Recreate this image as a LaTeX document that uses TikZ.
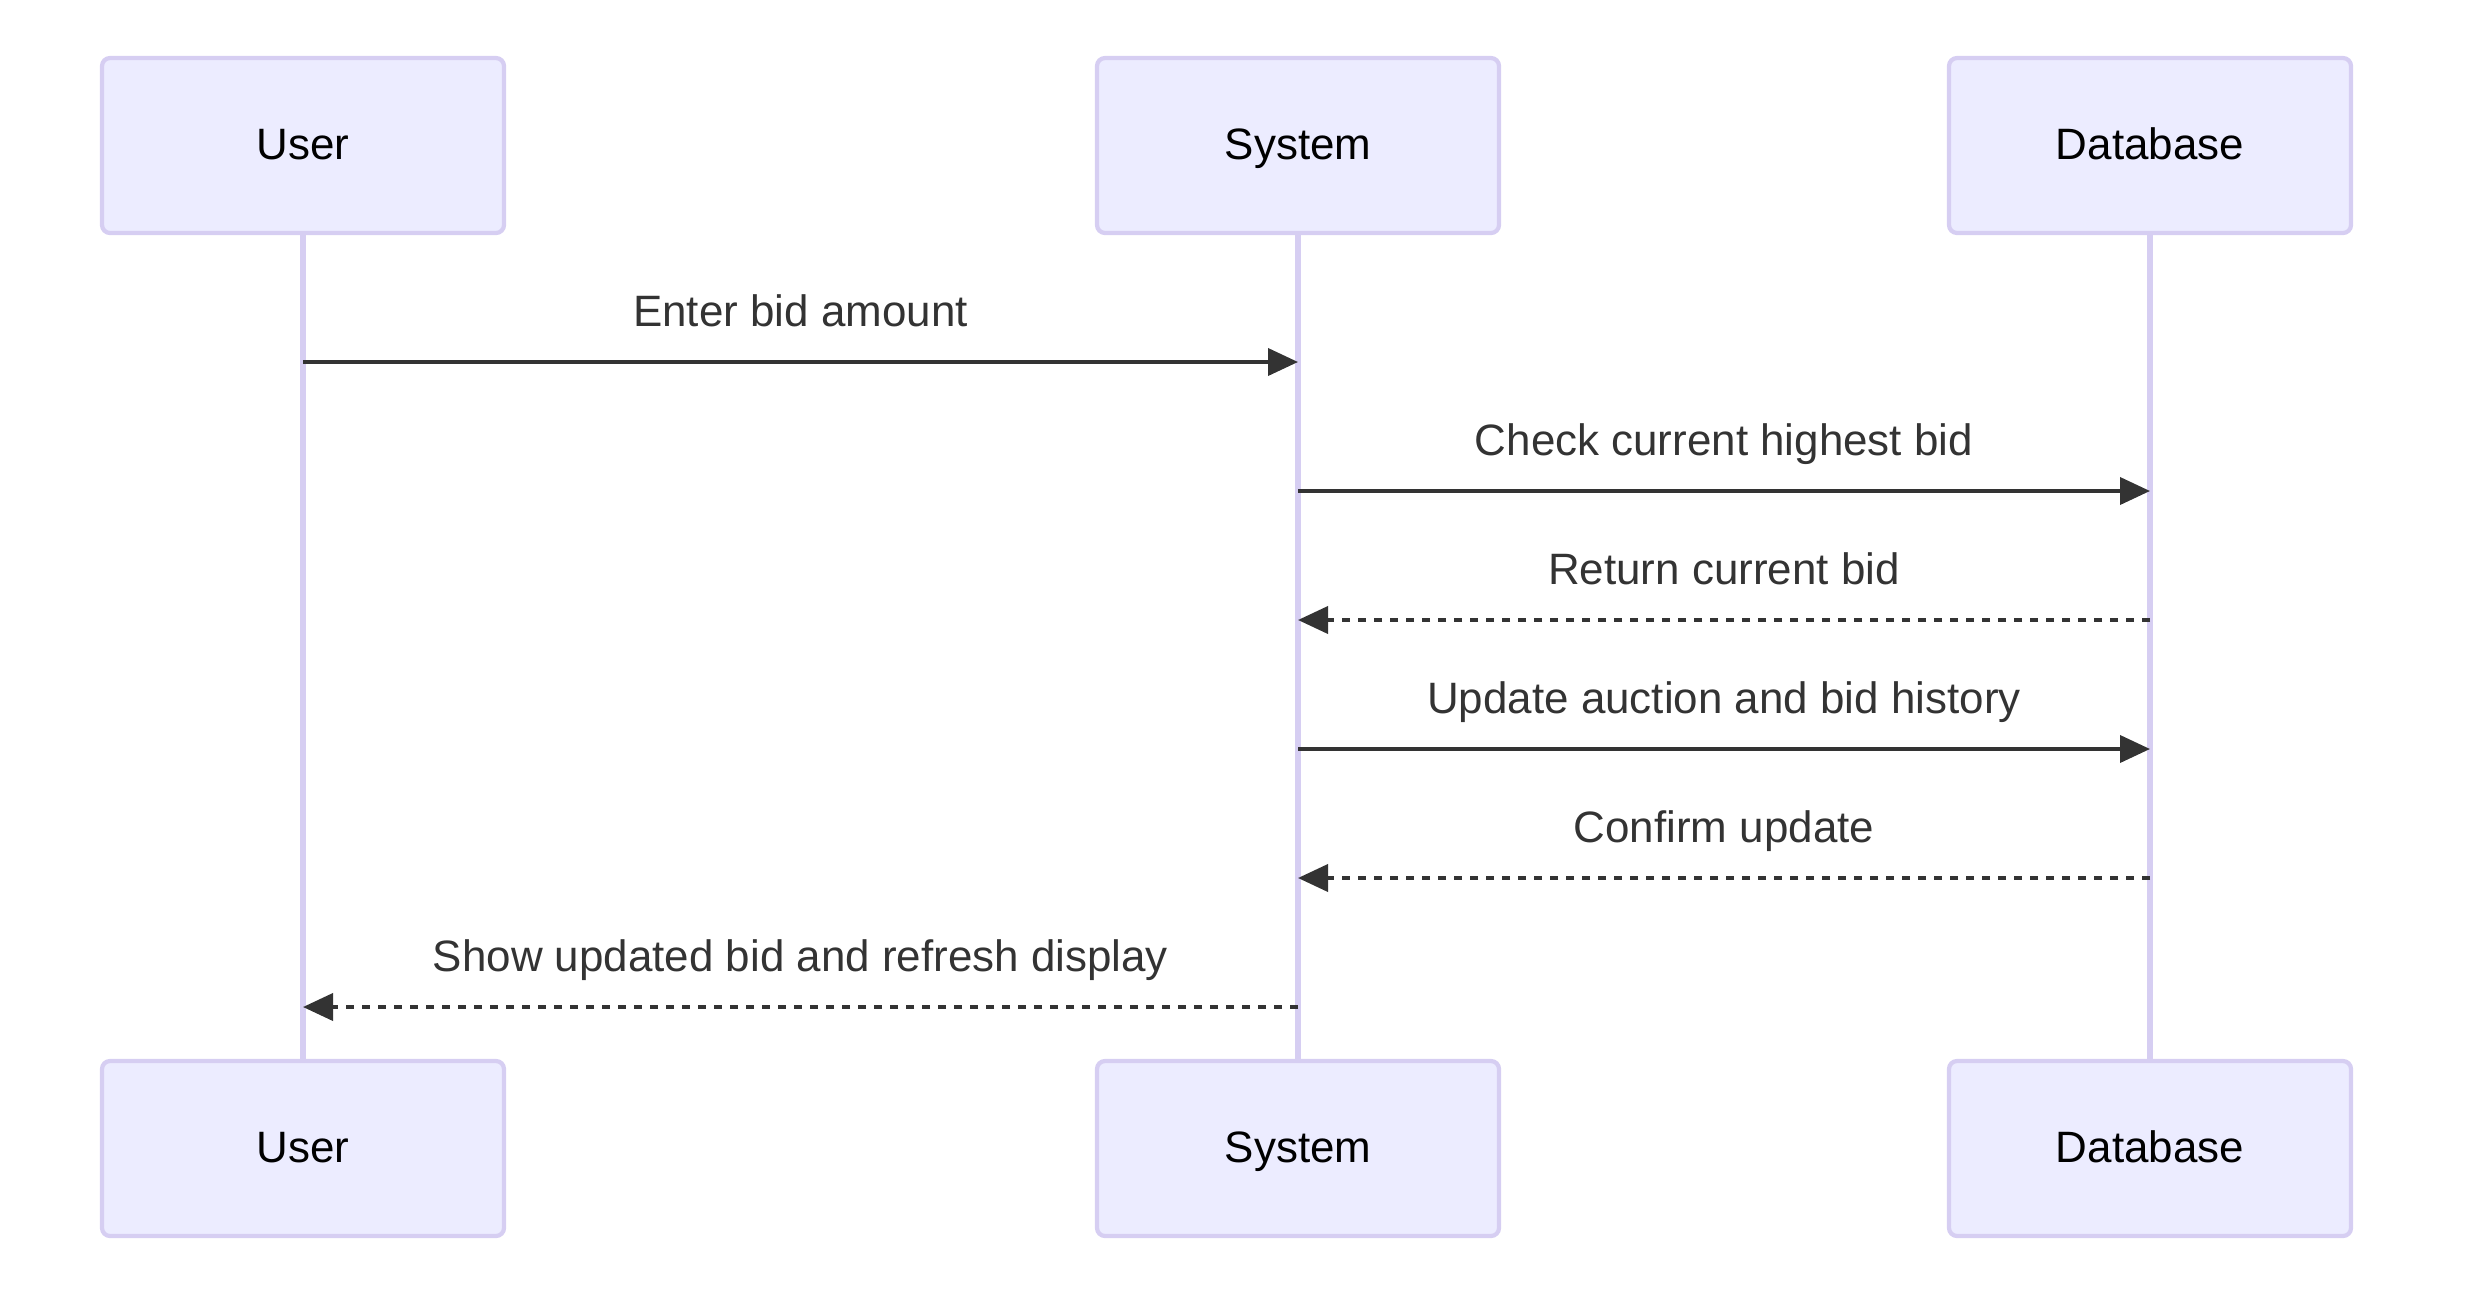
\documentclass[tikz,border=0pt]{standalone}
\usepackage{fontspec}
\setmainfont{Liberation Sans}
\usetikzlibrary{arrows.meta}
\definecolor{actfill}{HTML}{ECECFF}
\definecolor{actline}{HTML}{D6CEF2}
\definecolor{msgcol}{HTML}{333333}
\tikzset{
	actor/.style={draw=actline, fill=actfill, line width=1.2pt, rounded corners=0.08cm,
		minimum width=4.02cm, minimum height=1.75cm, text height=0.38cm, text depth=0.11cm,
		font=\fontsize{12.5}{15}\selectfont},
	lifeline/.style={draw=actline, line width=1.5pt},
	msg/.style={draw=msgcol, line width=1.1pt, -{Triangle[length=0.3cm, width=0.27cm]}},
	reply/.style={msg, dash pattern=on 0.08cm off 0.08cm},
	msglabel/.style={midway, anchor=base, yshift=0.36cm, inner sep=0pt, text=msgcol,
		font=\fontsize{12.5}{15}\selectfont}
}

\begin{document}
\begin{tikzpicture}
	\useasboundingbox (0,0) rectangle (24.70,-13.16);
	% actors, top and bottom
	\node[actor] (utop) at (3.03,-1.455) {User};
	\node[actor] (stop) at (12.98,-1.455) {System};
	\node[actor] (dtop) at (21.50,-1.455) {Database};
	\node[actor] (ubot) at (3.03,-11.485) {User};
	\node[actor] (sbot) at (12.98,-11.485) {System};
	\node[actor] (dbot) at (21.50,-11.485) {Database};
	% lifelines
	\draw[lifeline] (utop.south) -- (ubot.north);
	\draw[lifeline] (stop.south) -- (sbot.north);
	\draw[lifeline] (dtop.south) -- (dbot.north);
	% message end points
	\coordinate (u1) at (utop |- 0,-3.62);
	\coordinate (s1) at (stop |- 0,-3.62);
	\coordinate (s2) at (stop |- 0,-4.91);
	\coordinate (d2) at (dtop |- 0,-4.91);
	\coordinate (s3) at (stop |- 0,-6.20);
	\coordinate (d3) at (dtop |- 0,-6.20);
	\coordinate (s4) at (stop |- 0,-7.49);
	\coordinate (d4) at (dtop |- 0,-7.49);
	\coordinate (s5) at (stop |- 0,-8.78);
	\coordinate (d5) at (dtop |- 0,-8.78);
	\coordinate (s6) at (stop |- 0,-10.07);
	\coordinate (u6) at (utop |- 0,-10.07);
	% messages
	\draw[msg] (u1) -- (s1) node[msglabel] {Enter bid amount};
	\draw[msg] (s2) -- (d2) node[msglabel] {Check current highest bid};
	\draw[reply] (d3) -- (s3) node[msglabel] {Return current bid};
	\draw[msg] (s4) -- (d4) node[msglabel] {Update auction and bid history};
	\draw[reply] (d5) -- (s5) node[msglabel] {Confirm update};
	\draw[reply] (s6) -- (u6) node[msglabel] {Show updated bid and refresh display};
\end{tikzpicture}
\end{document}
